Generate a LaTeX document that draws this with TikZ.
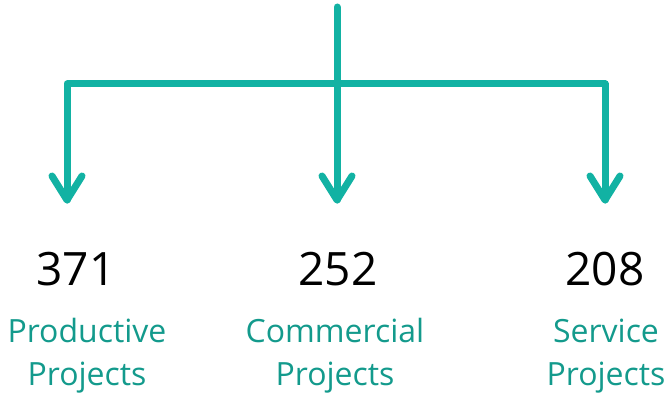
\documentclass[tikz,border=0pt]{standalone}
\usepackage{fontspec}
\setmainfont{Open Sans}
\usetikzlibrary{calc}
\definecolor{tealline}{HTML}{12B2A3}
\definecolor{tealtext}{HTML}{139A8C}
\begin{document}
\begin{tikzpicture}[x=1pt,y=-1pt,
  conn/.style={draw=tealline,line width=7pt,line cap=round,line join=round},
  num/.style={anchor=base,font=\fontsize{46}{46}\selectfont,text=black,inner sep=0pt},
  lbl/.style={anchor=base,align=center,font=\fontsize{32}{43}\selectfont,text=tealtext,inner sep=0pt}]
\useasboundingbox (0,0) rectangle (669,393);
\coordinate (top) at (337,7);
\coordinate (l) at (67,200);
\coordinate (c) at (337,200);
\coordinate (r) at (605,200);
\coordinate (lc) at (67,84);
\coordinate (rc) at (605,84);
\draw[conn] (top) -- (c);
\draw[conn] (l) -- (lc) -- (rc) -- (r);
\foreach \p in {l,c,r}{
  \draw[conn] ($(\p)+(-15,-24)$) -- (\p) -- ($(\p)+(15,-24)$);
}
\node[num] (n1) at (76,285) {371};
\node[num] (n2) at (338,285) {252};
\node[num] (n3) at (605,285) {208};
\node[lbl] (t1) at (87,385) {Productive\\Projects};
\node[lbl] (t2) at (335,385) {Commercial\\Projects};
\node[lbl] (t3) at (606,385) {Service\\Projects};
\end{tikzpicture}
\end{document}
